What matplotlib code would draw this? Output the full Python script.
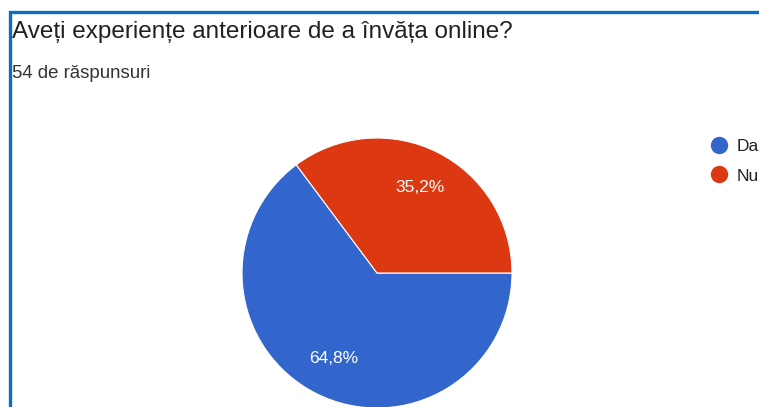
import matplotlib
matplotlib.use("Agg")
import matplotlib.pyplot as plt
from matplotlib.lines import Line2D

title = "Aveți experiențe anterioare de a învăța online?"
subtitle = "54 de răspunsuri"
categories = ["Da", "Nu"]
values = [64.8, 35.2]
colors = ["#3366cc", "#dc3912"]

FONT = ["Liberation Sans", "DejaVu Sans"]
W, H = 759, 407
fig = plt.figure(figsize=(W / 100, H / 100), dpi=100)
fig.patch.set_facecolor("white")

# overlay in pixel coords for frame and texts
ov = fig.add_axes([0, 0, 1, 1])
ov.set_xlim(0, W)
ov.set_ylim(H, 0)
ov.axis("off")
ov.plot([9.5, 9.5, W], [H, 12, 12], color="#0a6fc4", lw=2.4, solid_capstyle="butt",
        solid_joinstyle="miter")
ov.text(12, 32, title, fontsize=17.5, family=FONT, color="#202124",
        va="center", ha="left")
ov.text(12, 74, subtitle, fontsize=13.4, family=FONT, color="#333333",
        va="center", ha="left")

# pie
cx, cy, r = 377, 273, 135
ax = fig.add_axes([(cx - r) / W, (H - cy - r) / H, 2 * r / W, 2 * r / H])
wedges, texts, autotexts = ax.pie(
    values, colors=colors, startangle=0, counterclock=False,
    autopct=lambda p: f"{p:.1f}%".replace(".", ","), pctdistance=0.71,
    wedgeprops=dict(edgecolor="white", linewidth=0.8),
    textprops=dict(color="white", fontsize=12.5, family=FONT),
)
ax.set_xlim(-1, 1)
ax.set_ylim(-1, 1)
ax.set_aspect("equal")

handles = [Line2D([], [], marker="o", linestyle="none", markersize=11.5,
                  markerfacecolor=c, markeredgecolor=c) for c in colors]
leg = fig.legend(handles, categories, loc="upper left",
                 bbox_to_anchor=(709 / W, 1 - 139 / H), frameon=False,
                 handletextpad=0.4, labelspacing=0.82, handlelength=1.2,
                 borderaxespad=0, borderpad=0,
                 prop=dict(family=FONT, size=12.5))
for t in leg.get_texts():
    t.set_color("#202124")

fig.savefig("out.png", dpi=100)
